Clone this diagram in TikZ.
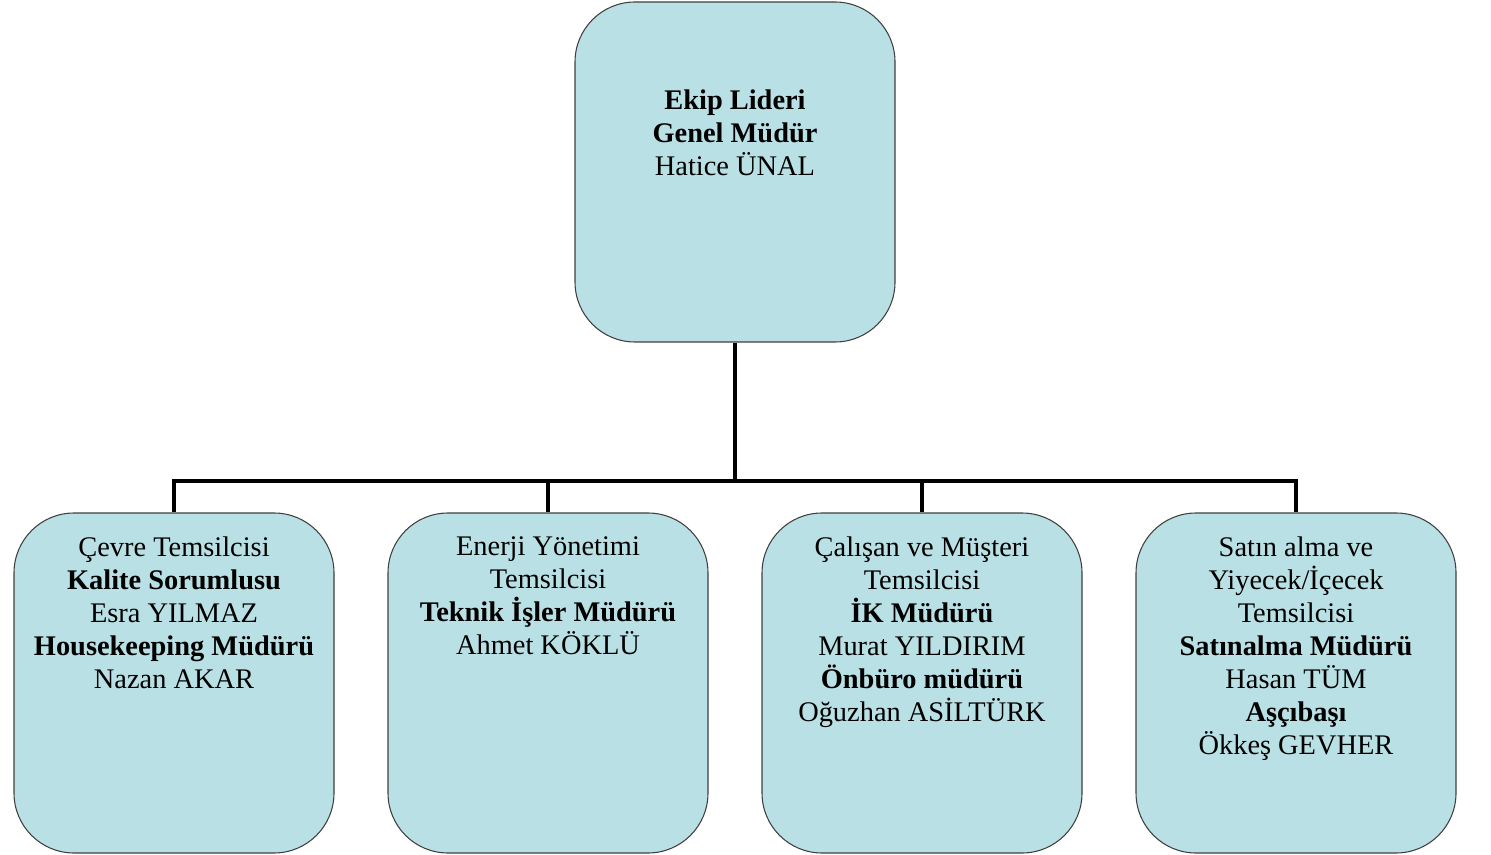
\documentclass[tikz,border=0pt]{standalone}
\usepackage{fontspec}
\setmainfont{Liberation Serif}
\usepackage{tikz}
\definecolor{boxfill}{RGB}{185,224,228}
\definecolor{boxline}{RGB}{64,64,64}
\tikzset{
  orgbox/.style={draw=boxline, line width=0.8pt, fill=boxfill, rounded corners=45pt,
    inner sep=0pt, minimum width=240pt, minimum height=255pt},
  link/.style={line width=3pt, line join=miter}
}
\newcommand{\boxtext}[2]{\begin{minipage}[c][255pt][t]{240pt}\centering
  \fontsize{21.3}{24.75}\selectfont\vspace*{#1}#2\end{minipage}}
\begin{document}
\begin{tikzpicture}[x=0.75pt,y=0.75pt,yscale=-1,xscale=1]
\useasboundingbox (0,0) rectangle (1491,855);

%Rounded Rect [id:lead]
\node [orgbox] (lead) at (735,172) {\boxtext{66pt}{\textbf{Ekip Lideri}\\ \textbf{Genel Müdür}\\ Hatice ÜNAL}};
%Rounded Rect [id:cevre]
\node [orgbox] (cevre) at (174,683) {\boxtext{18pt}{Çevre Temsilcisi\\ \textbf{Kalite Sorumlusu}\\ Esra YILMAZ\\ \textbf{Housekeeping Müdürü}\\ Nazan AKAR}};
%Rounded Rect [id:enerji]
\node [orgbox] (enerji) at (548,683) {\boxtext{18pt}{Enerji Yönetimi\\ Temsilcisi\\ \textbf{Teknik İşler Müdürü}\\ Ahmet KÖKLÜ}};
%Rounded Rect [id:calisan]
\node [orgbox] (calisan) at (922,683) {\boxtext{18pt}{Çalışan ve Müşteri\\ Temsilcisi\\ \textbf{İK Müdürü}\\ Murat YILDIRIM\\ \textbf{Önbüro müdürü}\\ Oğuzhan ASİLTÜRK}};
%Rounded Rect [id:satin]
\node [orgbox] (satin) at (1296,683) {\boxtext{18pt}{Satın alma ve\\ Yiyecek/İçecek\\ Temsilcisi\\ \textbf{Satınalma Müdürü}\\ Hasan TÜM\\ \textbf{Aşçıbaşı}\\ Ökkeş GEVHER}};

%Straight Lines [id:bus]
\coordinate (bus) at (735,481);
\draw [link] (lead.south) -- (lead.south |- bus);
\draw [link] (cevre.north) |- (satin.north |- bus) -- (satin.north);
\foreach \b in {enerji,calisan}
  \draw [link] (\b.north |- bus) -- (\b.north);
\end{tikzpicture}
\end{document}
